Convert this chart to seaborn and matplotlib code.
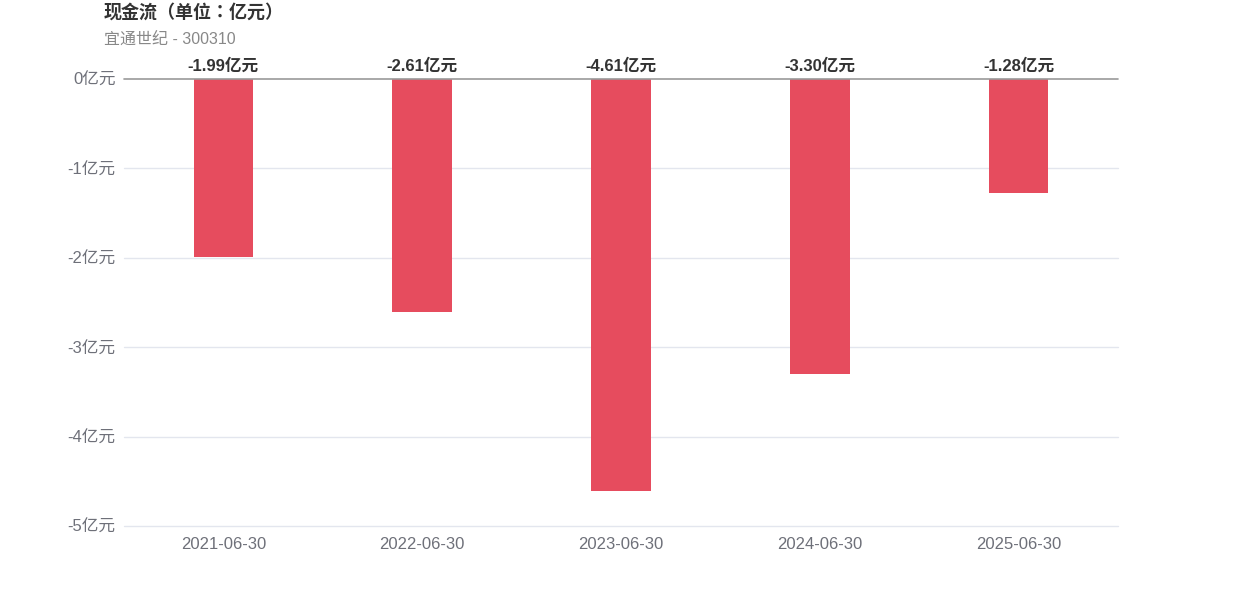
import matplotlib
matplotlib.use("Agg")
import matplotlib.pyplot as plt
import seaborn as sns
import pandas as pd

categories = ["2021-06-30", "2022-06-30", "2023-06-30", "2024-06-30", "2025-06-30"]
values = [-1.99, -2.61, -4.61, -3.30, -1.28]
yticks = [0, -1, -2, -3, -4, -5]
ytick_labels = ["0亿元", "-1亿元", "-2亿元", "-3亿元", "-4亿元", "-5亿元"]
title = "现金流（单位：亿元）"
subtitle = "宜通世纪 - 300310"

sns.set_theme(style="white")
plt.rcParams['font.family'] = ['Liberation Sans', 'Noto Sans CJK SC', 'DejaVu Sans']

df = pd.DataFrame({"date": categories, "value": values})

fig = plt.figure(figsize=(12.42, 5.96), dpi=100)
ax = fig.add_axes([124/1242, 1 - 526/596, (1118-124)/1242, (526-79)/596])

sns.barplot(data=df, x="date", y="value", color="#E64C5E", width=0.3, ax=ax,
            saturation=1, linewidth=0)

ax.set_xlim(-0.5, 4.5)
ax.set_ylim(-5, 0)
ax.set_yticks(yticks)
ax.set_yticklabels(ytick_labels)
ax.set_xlabel("")
ax.set_ylabel("")
for y in yticks[1:]:
    ax.axhline(y, color="#E3E6EE", lw=1, zorder=0, clip_on=False)
ax.axhline(0, color="#999999", lw=1.2, zorder=3, clip_on=False)
for s in ax.spines.values():
    s.set_visible(False)
ax.tick_params(axis="y", length=0, pad=6, labelsize=12, labelcolor="#6E7079")
ax.tick_params(axis="x", length=0, pad=8, labelsize=12, labelcolor="#6E7079")

for i, v in enumerate(values):
    ax.annotate(f"{v:.2f}亿元", xy=(i, 0), xytext=(0, 4), textcoords="offset points",
                ha="center", va="bottom", fontsize=12, fontweight="bold", color="#333333")

fig.text(104/1242, 1 - 13/596, title, fontsize=13, fontweight="bold", color="#333333",
         ha="left", va="center", family=['Liberation Sans', 'Noto Sans CJK TC', 'DejaVu Sans'])
fig.text(104/1242, 1 - 39/596, subtitle, fontsize=11.5, color="#888888", ha="left", va="center")

fig.savefig("out.png", dpi=100, facecolor="white")
